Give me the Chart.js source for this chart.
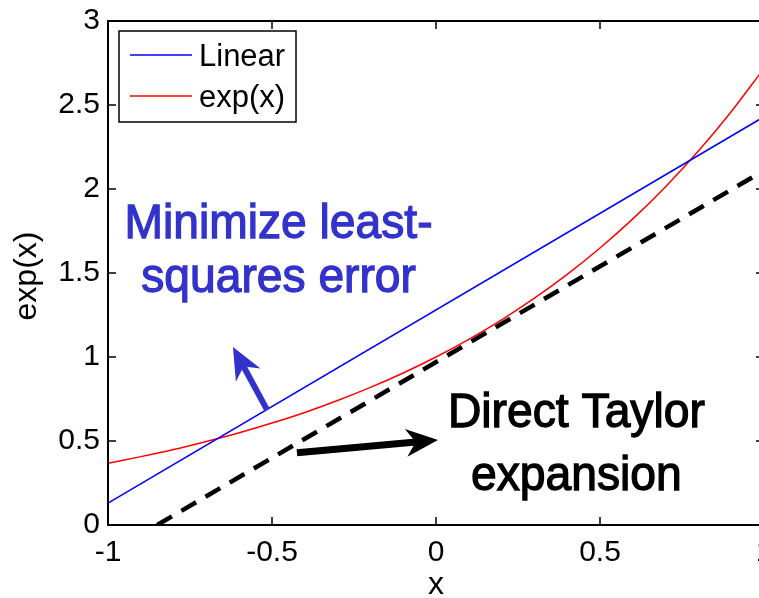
<!DOCTYPE html>
<html>
<head>
<meta charset="utf-8">
<script src="https://cdn.jsdelivr.net/npm/chart.js@4.4.0/dist/chart.umd.min.js"></script>
<style>
html, body { margin: 0; padding: 0; background: #fff; overflow: hidden; }
#wrap { width: 759px; height: 598px; overflow: hidden; position: relative; }
canvas { display: block; }
</style>
</head>
<body>
<div id="wrap"><canvas id="expChart" width="790" height="598"></canvas></div>
<script>
// values
var xTicks = [-1, -0.5, 0, 0.5, 1];
var yTicks = [0, 0.5, 1, 1.5, 2, 2.5, 3];

var linearX = [-1, 1];
var linearY = [0.13, 2.43];

var expX = [-1, -0.9, -0.8, -0.7, -0.6, -0.5, -0.4, -0.3, -0.2, -0.1, 0,
            0.1, 0.2, 0.3, 0.4, 0.5, 0.6, 0.7, 0.8, 0.9, 1];
var expY = [0.368, 0.407, 0.449, 0.497, 0.549, 0.607, 0.670, 0.741, 0.819, 0.905, 1.0,
            1.105, 1.221, 1.350, 1.492, 1.649, 1.822, 2.014, 2.226, 2.460, 2.718];

var taylorX = [-0.85, 1];
var taylorY = [0, 2.11];

var legendLabels = ['Linear', 'exp(x)'];

// annotations, in data units
var noteBlue = { lines: ['Minimize least-', 'squares error'], x: -0.48, y: [1.708, 1.387], color: '#3333cc', width: 308 };
var noteBlack = { lines: ['Direct Taylor', 'expansion'], x: 0.428, y: [0.583, 0.208], color: '#000000', width: 257 };
var arrowBlue = { from: [-0.515, 0.685], to: [-0.619, 1.06], color: '#3333cc', width: 6 };
var arrowBlack = { from: [-0.424, 0.43], to: [0.006, 0.506], color: '#000000', width: 7 };

var fontFamily = '"Liberation Sans", Arial, sans-serif';
var legendFont = '31px ' + fontFamily;
var noteFont = '48px ' + fontFamily;

toPoints = function (xs, ys) {
    var pts = [];
    for (var i = 0; i < xs.length; i++) {
        pts.push({ x: xs[i], y: ys[i] });
    }
    return pts;
}

drawArrow = function (ctx, chart, a) {
    var sx = chart.scales.x, sy = chart.scales.y;
    var x0 = sx.getPixelForValue(a.from[0]), y0 = sy.getPixelForValue(a.from[1]);
    var x1 = sx.getPixelForValue(a.to[0]), y1 = sy.getPixelForValue(a.to[1]);
    var ang = Math.atan2(y1 - y0, x1 - x0);
    var headLen = 32, headW = 14;
    var bx = x1 - headLen * Math.cos(ang), by = y1 - headLen * Math.sin(ang);
    ctx.save();
    ctx.strokeStyle = a.color;
    ctx.fillStyle = a.color;
    ctx.lineWidth = a.width;
    ctx.beginPath();
    ctx.moveTo(x0, y0);
    ctx.lineTo(bx + 10 * Math.cos(ang), by + 10 * Math.sin(ang));
    ctx.stroke();
    var nx = -Math.sin(ang), ny = Math.cos(ang);
    var notch = headLen * 0.7;
    ctx.beginPath();
    ctx.moveTo(x1, y1);
    ctx.lineTo(bx + nx * headW, by + ny * headW);
    ctx.lineTo(x1 - notch * Math.cos(ang), y1 - notch * Math.sin(ang));
    ctx.lineTo(bx - nx * headW, by - ny * headW);
    ctx.closePath();
    ctx.fill();
    ctx.restore();
}

drawNote = function (ctx, chart, n) {
    var sx = chart.scales.x, sy = chart.scales.y;
    ctx.save();
    ctx.font = noteFont;
    ctx.fillStyle = n.color;
    ctx.strokeStyle = n.color;
    ctx.lineWidth = 1.3;
    ctx.textAlign = 'center';
    ctx.textBaseline = 'alphabetic';
    var k = n.width / ctx.measureText(n.lines[0]).width;
    for (var i = 0; i < n.lines.length; i++) {
        var px = sx.getPixelForValue(n.x), py = sy.getPixelForValue(n.y[i]);
        ctx.save();
        ctx.translate(px, py);
        ctx.scale(k, 1);
        ctx.fillText(n.lines[i], 0, 0);
        ctx.strokeText(n.lines[i], 0, 0);
        ctx.restore();
    }
    ctx.restore();
}

var framePlugin = {
    id: 'frame',
    afterDraw: function (chart) {
        var ctx = chart.ctx;
        var a = chart.chartArea;
        var sx = chart.scales.x, sy = chart.scales.y;
        ctx.save();
        ctx.strokeStyle = '#000';
        ctx.lineWidth = 2;
        ctx.strokeRect(a.left, a.top, a.right - a.left, a.bottom - a.top);

        // inward ticks on all four sides
        ctx.lineWidth = 1.5;
        ctx.beginPath();
        for (var i = 0; i < xTicks.length; i++) {
            var px = sx.getPixelForValue(xTicks[i]);
            ctx.moveTo(px, a.bottom); ctx.lineTo(px, a.bottom - 8);
            ctx.moveTo(px, a.top); ctx.lineTo(px, a.top + 8);
        }
        for (var j = 0; j < yTicks.length; j++) {
            var py = sy.getPixelForValue(yTicks[j]);
            ctx.moveTo(a.left, py); ctx.lineTo(a.left + 8, py);
            ctx.moveTo(a.right, py); ctx.lineTo(a.right - 8, py);
        }
        ctx.stroke();

        // legend box
        var lx = a.left + 11, ly = a.top + 10, lw = 177, lh = 91;
        ctx.fillStyle = '#fff';
        ctx.fillRect(lx, ly, lw, lh);
        ctx.lineWidth = 1.5;
        ctx.strokeRect(lx, ly, lw, lh);
        ctx.font = legendFont;
        ctx.textAlign = 'left';
        ctx.textBaseline = 'middle';
        for (var k = 0; k < legendLabels.length; k++) {
            var ds = chart.data.datasets[k];
            var yy = ly + 24 + k * 41;
            ctx.strokeStyle = ds.borderColor;
            ctx.lineWidth = 1.5;
            ctx.beginPath();
            ctx.moveTo(lx + 11, yy); ctx.lineTo(lx + 73, yy);
            ctx.stroke();
            ctx.fillStyle = '#000';
            ctx.fillText(legendLabels[k], lx + 80, yy + 2);
        }

        // axis titles
        ctx.fillStyle = '#000';
        ctx.font = '32px ' + fontFamily;
        ctx.textAlign = 'center';
        ctx.textBaseline = 'alphabetic';
        ctx.fillText('x', sx.getPixelForValue(0), 594);
        ctx.save();
        ctx.translate(36, (a.top + a.bottom) / 2 + 3);
        ctx.rotate(-Math.PI / 2);
        ctx.fillText('exp(x)', 0, 0);
        ctx.restore();

        drawArrow(ctx, chart, arrowBlue);
        drawArrow(ctx, chart, arrowBlack);
        drawNote(ctx, chart, noteBlue);
        drawNote(ctx, chart, noteBlack);
        ctx.restore();
    }
};

var ctx = document.getElementById('expChart');
var expChart = new Chart(ctx, {
    type: 'scatter',
    data: {
        datasets: [{
            label: legendLabels[0],
            data: toPoints(linearX, linearY),
            showLine: true,
            borderColor: '#0000ff',
            borderWidth: 1.5,
            pointRadius: 0
        }, {
            label: legendLabels[1],
            data: toPoints(expX, expY),
            showLine: true,
            borderColor: '#ff0000',
            borderWidth: 1.5,
            pointRadius: 0,
            tension: 0.3
        }, {
            label: 'Taylor',
            data: toPoints(taylorX, taylorY),
            showLine: true,
            borderColor: '#000000',
            borderWidth: 4.5,
            borderDash: [17, 11],
            pointRadius: 0
        }]
    },
    options: {
        responsive: false,
        animation: false,
        layout: { padding: { top: 21, right: 26, left: 0, bottom: 0 } },
        plugins: { legend: { display: false }, tooltip: { enabled: false } },
        scales: {
            x: {
                type: 'linear',
                min: -1, max: 1,
                grid: { display: false },
                border: { display: false },
                afterBuildTicks: function (s) { s.ticks = xTicks.map(function (v) { return { value: v }; }); },
                afterFit: function (s) { s.height = 73; },
                ticks: { color: '#000', font: { family: fontFamily, size: 30 }, padding: 2, maxRotation: 0,
                         callback: function (v) { return String(v); } }
            },
            y: {
                type: 'linear',
                min: 0, max: 3,
                grid: { display: false },
                border: { display: false },
                afterBuildTicks: function (s) { s.ticks = yTicks.map(function (v) { return { value: v }; }); },
                afterFit: function (s) { s.width = 108; },
                ticks: { color: '#000', font: { family: fontFamily, size: 30 }, padding: 0,
                         callback: function (v) { return String(v); } }
            }
        }
    },
    plugins: [framePlugin]
});
</script>
</body>
</html>
